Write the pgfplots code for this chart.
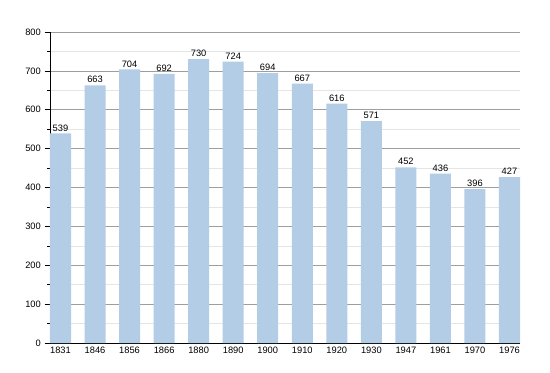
\documentclass[border=0pt]{standalone}
\usepackage{pgfplots}
\pgfplotsset{compat=1.18}
\usepackage{fontspec}
\setmainfont{Liberation Sans}
\definecolor{barblue}{RGB}{179,205,230}
\begin{document}
\fontsize{9bp}{11bp}\selectfont
\begin{tikzpicture}
\begin{axis}[
  scale only axis,
  width=470bp, height=311bp,
  xmin=-0.304, xmax=13.304,
  ymin=0, ymax=800,
  axis x line*=bottom, axis y line*=left,
  ytick={0,100,...,800},
  minor ytick={50,150,...,750},
  xtick={0,...,13},
  xticklabels={1831,1846,1856,1866,1880,1890,1900,1910,1920,1930,1947,1961,1970,1976},
  major x tick style={draw=none},
  ymajorgrids, yminorgrids,
  major grid style={draw=black!38, line width=0.6pt},
  minor grid style={draw=black!10, line width=0.6pt},
  tick style={black, line width=0.6pt},
  major tick length=5bp, minor tick length=3bp,
  ytick align=outside,
  axis line style={black, line width=0.8pt},
  tick label style={font=\fontsize{9.3bp}{11bp}\selectfont},
  /pgf/number format/assume math mode=true,
  yticklabel style={xshift=-1bp},
  xticklabel style={yshift=-1bp},
  clip=false,
]
\addplot[ybar, bar width=0.609, fill=barblue, draw=none,
  nodes near coords,
  every node near coord/.append style={font=\fontsize{9.3bp}{11bp}\selectfont, black, yshift=-1bp}]
  coordinates {(0,539) (1,663) (2,704) (3,692) (4,730) (5,724) (6,694) (7,667) (8,616) (9,571) (10,452) (11,436) (12,396) (13,427)};
\end{axis}
\path (current axis.south west) ++(-50bp,-30bp) rectangle ++(550bp,373bp);
\end{tikzpicture}
\end{document}
